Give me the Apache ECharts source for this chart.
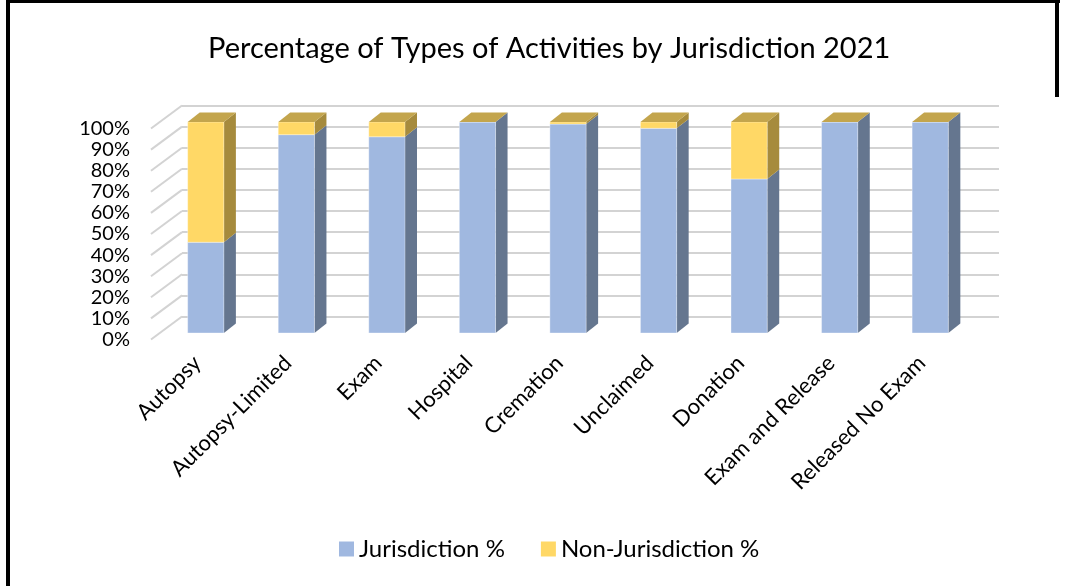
<!DOCTYPE html>
<html>
<head>
<meta charset="utf-8">
<script src="https://cdn.jsdelivr.net/npm/echarts@6/dist/echarts.min.js"></script>
<style>
html,body{margin:0;padding:0;background:#fff;}
#chart{width:1073px;height:586px;}
</style>
</head>
<body>
<div id="chart"></div>
<script>
const categories = ['Autopsy', 'Autopsy-Limited', 'Exam', 'Hospital', 'Cremation', 'Unclaimed', 'Donation', 'Exam and Release', 'Released No Exam'];
const jurisdiction = [43, 94, 93, 100, 99, 97, 73, 100, 100];
const nonJurisdiction = [57, 6, 7, 0, 1, 3, 27, 0, 0];
const yTicks = [0, 10, 20, 30, 40, 50, 60, 70, 80, 90, 100];

const FONT = 'Lato';
const BAR_DEPTH = [12, -9.4];
const WALL_DEPTH = [31, -23];
const COLORS = {
  blue: { front: '#A0B8E0', side: '#65768F', top: '#8397B6' },
  gold: { front: '#FFD866', side: '#A68B3D', top: '#C3A54D' }
};

function barRenderer(pal, drawTop) {
  return function (params, api) {
    const i = api.value(0), s = api.value(1), e = api.value(2);
    const b = api.coord([i, s]);
    const t = api.coord([i, e]);
    const w = api.size([1, 0])[0] * 0.4;
    const x0 = b[0] - w / 2, x1 = b[0] + w / 2;
    const dx = BAR_DEPTH[0], dy = BAR_DEPTH[1];
    const children = [
      { type: 'polygon', shape: { points: [[x1, t[1]], [x1 + dx, t[1] + dy], [x1 + dx, b[1] + dy], [x1, b[1]]] },
        style: { fill: pal.side } },
      { type: 'rect', shape: { x: x0, y: t[1], width: w, height: b[1] - t[1] },
        style: { fill: pal.front, stroke: 'rgba(255,255,255,0.35)', lineWidth: 1 } }
    ];
    if (drawTop) {
      children.push({ type: 'polygon', shape: { points: [[x0, t[1]], [x0 + dx, t[1] + dy], [x1 + dx, t[1] + dy], [x1, t[1]]] },
        style: { fill: pal.top } });
    }
    return { type: 'group', children: children };
  };
}

const chart = echarts.init(document.getElementById('chart'), null, { renderer: 'canvas' });
chart.setOption({
  animation: false,
  backgroundColor: '#fff',
  title: {
    text: 'Percentage of Types of Activities by Jurisdiction 2021',
    left: 203, top: 29,
    textStyle: { fontFamily: FONT, fontSize: 29, fontWeight: 'normal', color: '#000' }
  },
  legend: {
    data: ['Jurisdiction %', 'Non-Jurisdiction %'],
    left: 334, top: 532,
    itemWidth: 15, itemHeight: 15, itemGap: 36, icon: 'rect',
    textStyle: { fontFamily: FONT, fontSize: 24, color: '#000' }
  },
  graphic: [
    { type: 'rect', shape: { x: 6, y: 0, width: 4, height: 586 }, style: { fill: '#000' } },
    { type: 'rect', shape: { x: 6, y: 0, width: 1054, height: 3 }, style: { fill: '#000' } },
    { type: 'rect', shape: { x: 1055, y: 0, width: 4, height: 97 }, style: { fill: '#000' } }
  ],
  grid: [
    { left: 160.5, top: 122, width: 815, height: 211 },
    { left: 151, top: 128.5, width: 817, height: 211 },
    { left: 182, top: 105.5, width: 817, height: 211 }
  ],
  xAxis: [
    { type: 'category', gridIndex: 0, data: categories,
      axisLine: { show: false }, axisTick: { show: false }, splitLine: { show: false },
      axisLabel: { rotate: 45, margin: 18, interval: 0, padding: [0, 12, 0, 0], color: '#000', fontFamily: FONT, fontSize: 22 } },
    { type: 'value', gridIndex: 1, min: 0, max: 1, show: false },
    { type: 'value', gridIndex: 2, min: 0, max: 1, show: false }
  ],
  yAxis: [
    { type: 'value', gridIndex: 0, min: 0, max: 100, interval: 10, show: false },
    { type: 'value', gridIndex: 1, min: 0, max: 100, interval: 10,
      axisLine: { show: false }, axisTick: { show: false }, splitLine: { show: false },
      axisLabel: { formatter: '{value}%', margin: 21, color: '#000', fontFamily: FONT, fontSize: 20 } },
    { type: 'value', gridIndex: 2, min: 0, max: 100, interval: 10,
      axisLine: { show: false }, axisTick: { show: false }, axisLabel: { show: false },
      splitLine: { show: true, lineStyle: { color: '#d3d3d3', width: 2 } } }
  ],
  series: [
    {
      type: 'custom', name: 'wall-ticks', xAxisIndex: 2, yAxisIndex: 2, silent: true, z: 1,
      data: yTicks.map(v => [0, v]),
      renderItem: function (params, api) {
        const p = api.coord([0, api.value(1)]);
        return { type: 'line', shape: { x1: p[0], y1: p[1], x2: p[0] - WALL_DEPTH[0], y2: p[1] - WALL_DEPTH[1] },
          style: { stroke: '#d3d3d3', lineWidth: 2 } };
      }
    },
    {
      type: 'custom', name: 'Jurisdiction %', xAxisIndex: 0, yAxisIndex: 0, z: 3,
      itemStyle: { color: COLORS.blue.front },
      encode: { x: 0, y: [1, 2] },
      data: categories.map((c, i) => [i, 0, jurisdiction[i]]),
      renderItem: barRenderer(COLORS.blue, false)
    },
    {
      type: 'custom', name: 'Non-Jurisdiction %', xAxisIndex: 0, yAxisIndex: 0, z: 4,
      itemStyle: { color: COLORS.gold.front },
      encode: { x: 0, y: [1, 2] },
      data: categories.map((c, i) => [i, jurisdiction[i], jurisdiction[i] + nonJurisdiction[i]]),
      renderItem: barRenderer(COLORS.gold, true)
    }
  ]
});
</script>
</body>
</html>
